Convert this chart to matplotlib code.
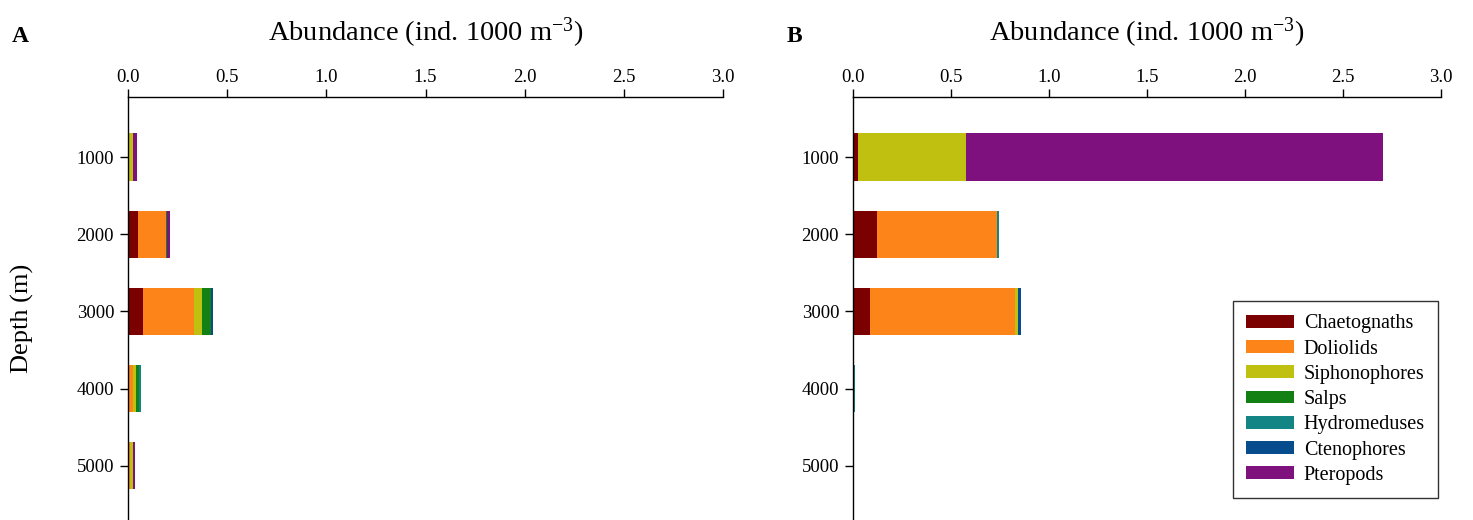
import numpy as np
import matplotlib.pyplot as plt

plt.rcParams['font.family'] = ['Liberation Serif', 'DejaVu Serif']
plt.rcParams['mathtext.fontset'] = 'custom'
plt.rcParams['mathtext.rm'] = 'Liberation Serif'
plt.rcParams['mathtext.it'] = 'Liberation Serif:italic'

depths = [1000, 2000, 3000, 4000, 5000]
groups = ['Chaetognaths', 'Doliolids', 'Siphonophores', 'Salps',
          'Hydromeduses', 'Ctenophores', 'Pteropods']
colors = ['#7b0000', '#fd8419', '#c0c010', '#138013',
          '#138585', '#074c8c', '#7e117e']

# abundance per group (rows) and depth (columns), panel A
abund_a = [
    [0.002, 0.052, 0.077, 0.005, 0.002],   # Chaetognaths
    [0.003, 0.140, 0.256, 0.018, 0.008],   # Doliolids
    [0.020, 0.000, 0.040, 0.017, 0.013],   # Siphonophores
    [0.000, 0.007, 0.045, 0.015, 0.000],   # Salps
    [0.002, 0.000, 0.000, 0.010, 0.000],   # Hydromeduses
    [0.000, 0.000, 0.010, 0.000, 0.000],   # Ctenophores
    [0.020, 0.012, 0.000, 0.000, 0.013],   # Pteropods
]
# panel B
abund_b = [
    [0.027, 0.124, 0.088, 0.002, 0.0],
    [0.000, 0.610, 0.741, 0.005, 0.0],
    [0.551, 0.000, 0.015, 0.000, 0.0],
    [0.000, 0.000, 0.000, 0.000, 0.0],
    [0.000, 0.009, 0.000, 0.005, 0.0],
    [0.000, 0.000, 0.014, 0.000, 0.0],
    [2.128, 0.000, 0.000, 0.000, 0.0],
]

W, H = 1473, 520
fig = plt.figure(figsize=(W / 100, H / 100), dpi=100)

ax_a = fig.add_axes([128 / W, 0, (723 - 128) / W, 1 - 97 / H])
ax_b = fig.add_axes([853 / W, 0, (1441 - 853) / W, 1 - 97 / H])

def draw(ax, data):
    left = np.zeros(len(depths))
    for vals, name, c in zip(data, groups, colors):
        vals = np.array(vals)
        ax.barh(depths, vals, left=left, height=610, color=c, label=name,
                linewidth=0)
        left += vals
    ax.set_xlim(0, 3.0)
    ax.set_ylim(5700, 223)
    ax.set_xticks(np.arange(0, 3.01, 0.5))
    ax.set_xticklabels([f'{v:.1f}' for v in np.arange(0, 3.01, 0.5)])
    ax.set_yticks(depths)
    ax.xaxis.tick_top()
    ax.xaxis.set_label_position('top')
    ax.set_xlabel('Abundance (ind. 1000 m$^{-3}$)', fontsize=20.5, labelpad=20)
    ax.tick_params(axis='both', direction='out', length=6, width=1,
                   labelsize=13.5, pad=4)
    ax.tick_params(axis='x', pad=2)
    ax.spines['right'].set_visible(False)
    ax.spines['bottom'].set_visible(False)
    for s in ('top', 'left'):
        ax.spines[s].set_linewidth(1)

draw(ax_a, abund_a)
draw(ax_b, abund_b)

fig.text(22 / W, 1 - 318 / H, 'Depth (m)', fontsize=19, rotation=90,
         ha='center', va='center')

fig.text(12 / W, 1 - 36 / H, 'A', fontsize=17, fontweight='bold', va='center')
fig.text(787 / W, 1 - 36 / H, 'B', fontsize=17, fontweight='bold', va='center')

leg = ax_b.legend(loc='lower right', bbox_to_anchor=(1438 / W, 22 / H),
                  bbox_transform=fig.transFigure, fontsize=14.5,
                  frameon=True, fancybox=False, edgecolor='black',
                  handlelength=2.35, handleheight=0.6, labelspacing=0.31,
                  borderpad=0.65, handletextpad=0.5, borderaxespad=0)
leg.get_frame().set_linewidth(1)

fig.savefig('out.png', dpi=100)
